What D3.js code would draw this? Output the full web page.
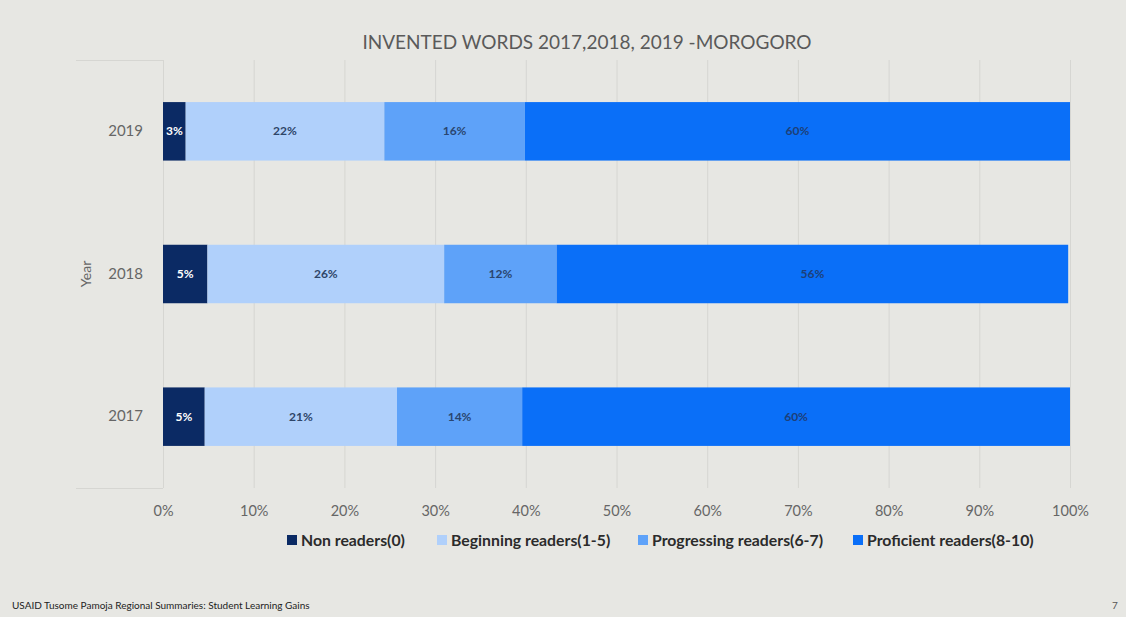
<!DOCTYPE html>
<html>
<head>
<meta charset="utf-8">
<script src="https://cdn.jsdelivr.net/npm/d3@7"></script>
<style>
  html, body { margin: 0; padding: 0; background: #e7e7e3; }
  svg { display: block; }
</style>
</head>
<body>
<svg id="chart" width="1126" height="617"></svg>
<script>
// Reading-level shares (percent of pupils) for invented-word fluency, Morogoro
const years = ["2019", "2018", "2017"];
const series = ["Non readers(0)", "Beginning readers(1-5)", "Progressing readers(6-7)", "Proficient readers(8-10)"];
const nonReaders = [2.5, 4.9, 4.6];
const beginningReaders = [21.9, 26.1, 21.2];
const progressingReaders = [15.5, 12.4, 13.8];
const proficientReaders = [60.1, 56.4, 60.4];
const xTicks = [0, 10, 20, 30, 40, 50, 60, 70, 80, 90, 100];

const colors = ["#0b2a64", "#b0d0fb", "#5ea2f9", "#0a6ff8"];
const labelColors = ["#ffffff", "#2e4568", "#2a4670", "#1d3f78"];

const svg = d3.select("#chart");
const W = 1126, H = 617;

// background
svg.append("rect").attr("width", W).attr("height", H).attr("fill", "#e7e7e3");

const plot = { left: 163, right: 1070, top: 60, bottom: 488 };

const x = d3.scaleLinear().domain([0, 100]).range([plot.left, plot.right]);
const y = d3.scaleBand().domain(years).range([plot.top, plot.bottom])
  .paddingInner(0.59).paddingOuter(0.295);

const rows = years.map((yr, i) => ({
  year: yr,
  vals: [nonReaders[i], beginningReaders[i], progressingReaders[i], proficientReaders[i]]
}));
const table = rows.map(r => {
  const o = { year: r.year };
  series.forEach((s, k) => o[s] = r.vals[k]);
  return o;
});
const stacked = d3.stack().keys(series)(table);

// title
svg.append("text")
  .attr("x", 587).attr("y", 49)
  .attr("text-anchor", "middle")
  .attr("font-family", "Lato, 'Open Sans', sans-serif")
  .attr("font-size", 19)
  .attr("fill", "#5a5a5a")
  .text("INVENTED WORDS 2017,2018, 2019 -MOROGORO");

// vertical gridlines
const grid = svg.append("g")
  .attr("transform", `translate(0,${plot.bottom})`)
  .call(d3.axisBottom(x).tickValues(xTicks).tickSize(-(plot.bottom - plot.top)).tickFormat(""));
grid.select(".domain").remove();
grid.selectAll("line").attr("stroke", "#d6d6d2").attr("stroke-width", 1);

// category band edges extending left of the plot
svg.append("g").selectAll("line")
  .data([plot.top, plot.bottom])
  .join("line")
  .attr("x1", 76).attr("x2", plot.left)
  .attr("y1", d => d + 0.5).attr("y2", d => d + 0.5)
  .attr("stroke", "#d6d6d2");

// x tick labels
const xAxis = svg.append("g")
  .attr("transform", `translate(0,${plot.bottom})`)
  .call(d3.axisBottom(x).tickValues(xTicks).tickSize(0).tickPadding(18).tickFormat(d => d + "%"));
xAxis.select(".domain").remove();
xAxis.selectAll("text")
  .attr("font-family", "Lato, 'Open Sans', sans-serif")
  .attr("font-size", 14.5)
  .attr("fill", "#666");

// y tick labels
const yAxis = svg.append("g")
  .attr("transform", `translate(${plot.left},0)`)
  .call(d3.axisLeft(y).tickSize(0).tickPadding(20));
yAxis.select(".domain").remove();
yAxis.selectAll("text")
  .attr("font-family", "Lato, 'Open Sans', sans-serif")
  .attr("font-size", 15)
  .attr("fill", "#666");

// y axis title
svg.append("text")
  .attr("transform", `translate(91,${(plot.top + plot.bottom) / 2}) rotate(-90)`)
  .attr("text-anchor", "middle")
  .attr("font-family", "Lato, 'Open Sans', sans-serif")
  .attr("font-size", 14)
  .attr("fill", "#666")
  .text("Year");

// stacked bars
const layers = svg.append("g").selectAll("g")
  .data(stacked)
  .join("g")
  .attr("fill", (d, i) => colors[i]);

layers.selectAll("rect")
  .data(d => d)
  .join("rect")
  .attr("x", d => x(d[0]))
  .attr("y", d => y(d.data.year))
  .attr("width", d => x(d[1]) - x(d[0]))
  .attr("height", y.bandwidth());

// value labels
stacked.forEach((layer, i) => {
  svg.append("g").selectAll("text")
    .data(layer)
    .join("text")
    .attr("x", d => (x(d[0]) + x(d[1])) / 2)
    .attr("y", d => y(d.data.year) + y.bandwidth() / 2 + 4)
    .attr("text-anchor", "middle")
    .attr("font-family", "Lato, 'Open Sans', sans-serif")
    .attr("font-weight", "bold")
    .attr("font-size", 12)
    .attr("fill", labelColors[i])
    .text(d => Math.round(d[1] - d[0]) + "%");
});

// legend
const legendX = [287, 437, 638, 853];
const legend = svg.append("g").selectAll("g")
  .data(series)
  .join("g")
  .attr("transform", (d, i) => `translate(${legendX[i]},535)`);
legend.append("rect")
  .attr("width", 10).attr("height", 10)
  .attr("fill", (d, i) => colors[i]);
legend.append("text")
  .attr("x", 14).attr("y", 10.5)
  .attr("font-family", "Lato, 'Open Sans', sans-serif")
  .attr("font-weight", "bold")
  .attr("font-size", 15.8)
  .attr("fill", "#2b2b2b")
  .text(d => d);

// footer
svg.append("text")
  .attr("x", 12).attr("y", 609)
  .attr("font-family", "Lato, sans-serif")
  .attr("font-size", 10)
  .attr("fill", "#222")
  .text("USAID Tusome Pamoja Regional Summaries: Student Learning Gains");
svg.append("text")
  .attr("x", 1112).attr("y", 609)
  .attr("font-family", "Lato, sans-serif")
  .attr("font-size", 10)
  .attr("fill", "#555")
  .text("7");
</script>
</body>
</html>
